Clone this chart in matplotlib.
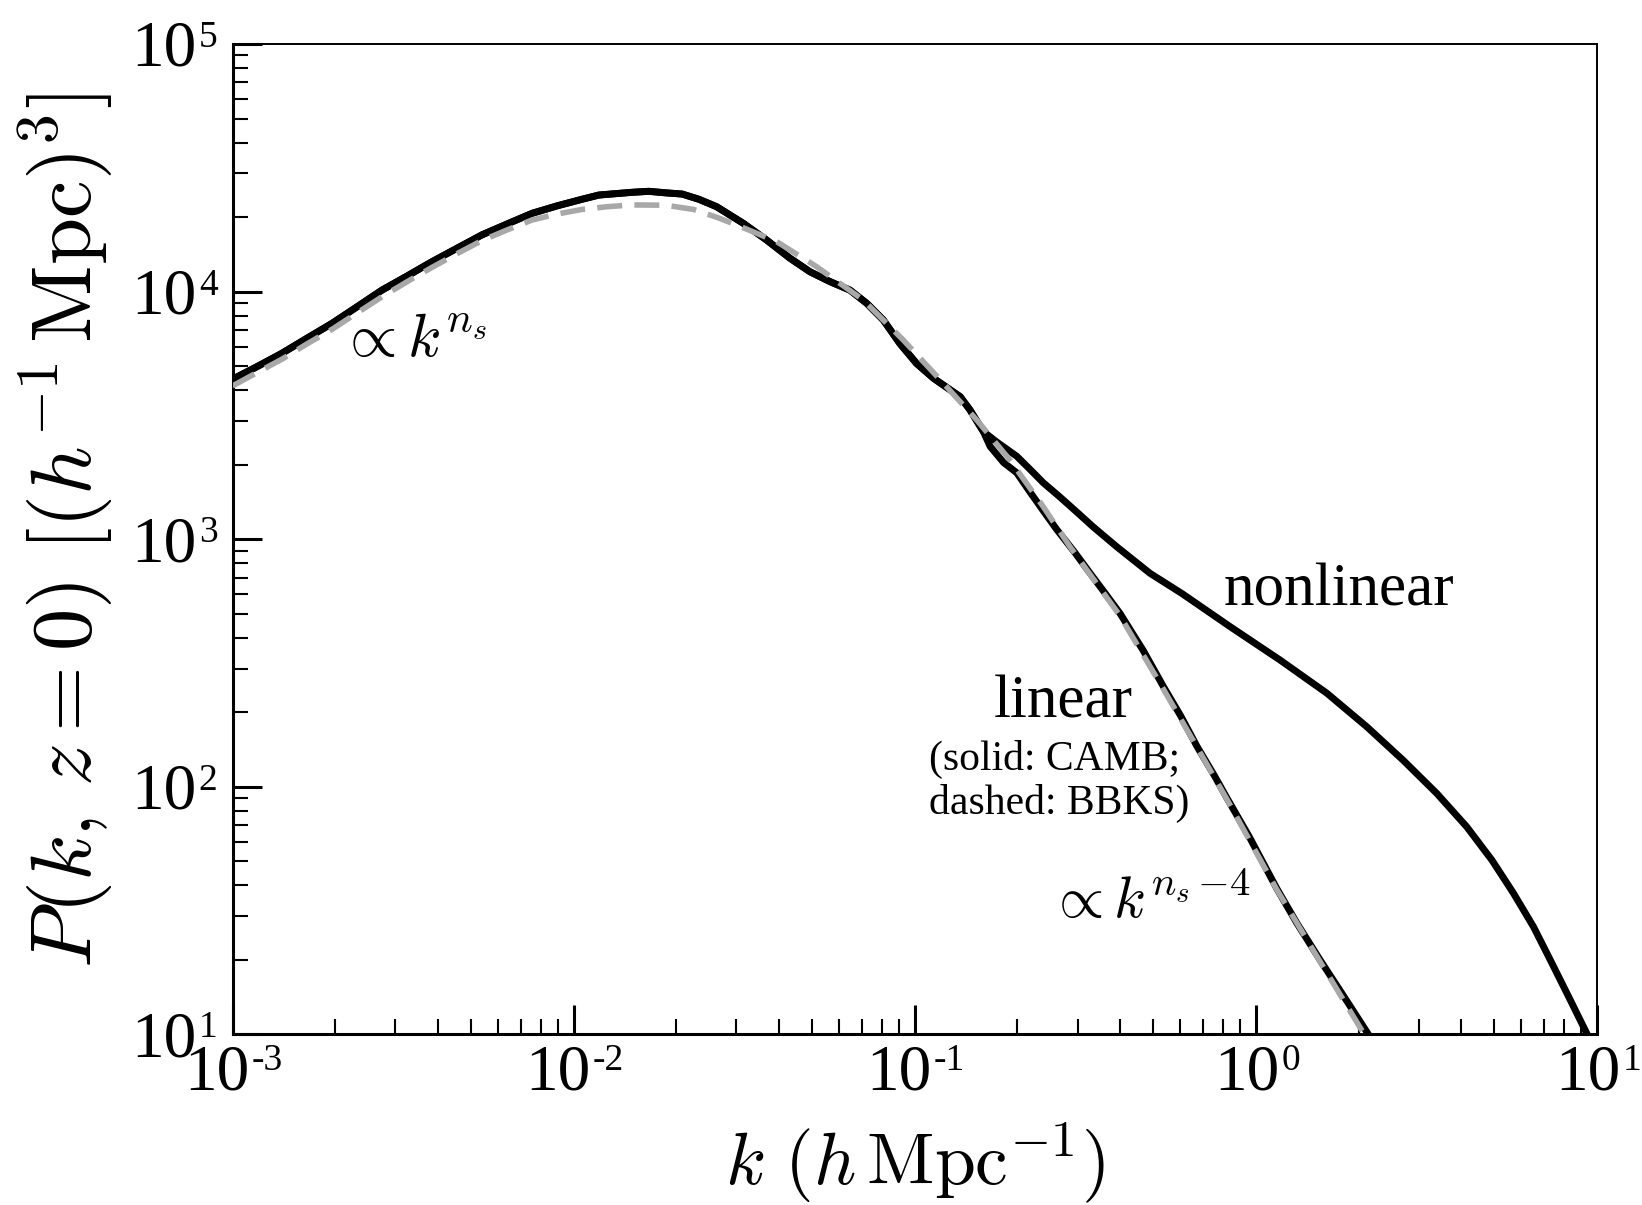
import matplotlib
matplotlib.use("Agg")
import matplotlib.pyplot as plt
from matplotlib.font_manager import FontProperties

plt.rcParams["font.family"] = ["Liberation Serif", "DejaVu Serif"]
plt.rcParams["mathtext.fontset"] = "cm"

# linear P(k), CAMB (solid)
k_camb = [0.001, 0.00118, 0.001396, 0.00165, 0.001959, 0.00232, 0.002742,
          0.00325, 0.003846, 0.00455, 0.005383, 0.00638, 0.007551, 0.00893,
          0.01059, 0.01186, 0.01483, 0.0166, 0.01858, 0.0208, 0.02328,
          0.02624, 0.03141, 0.03681, 0.04305, 0.04932, 0.05649, 0.06457,
          0.07228, 0.08091, 0.09036, 0.1012, 0.1135, 0.1271, 0.1358, 0.1452,
          0.1589, 0.1663, 0.1820, 0.1991, 0.2178, 0.2438, 0.2606, 0.2951,
          0.3266, 0.3631, 0.3999, 0.4677, 0.5358, 0.6026, 0.6714, 0.7586,
          0.8222, 0.9550, 1.151, 1.318, 1.542, 1.820, 2.138]
p_camb = [4426, 4977, 5636, 6471, 7447, 8690, 10139,
          11561, 13213, 14962, 16943, 18750, 20701, 22182,
          23605, 24547, 25177, 25410, 25061, 24774, 23605,
          22029, 18880, 16144, 13646, 12023, 10965, 10139,
          8974, 7674, 6180, 5129, 4467, 4009, 3767, 3327,
          2722, 2371, 2042, 1854, 1549, 1245, 1096, 881,
          729, 600, 501, 355, 254, 193, 146, 110,
          90.2, 63.1, 38.9, 28.2, 20.0, 14.1, 10.0]

# linear P(k), BBKS fit (dashed)
k_bbks = [0.001, 0.00118, 0.001396, 0.00165, 0.001959, 0.00232, 0.002742,
          0.00325, 0.003846, 0.00455, 0.005383, 0.00638, 0.007551, 0.00893,
          0.01059, 0.01259, 0.01483, 0.01858, 0.02244, 0.0263, 0.03006,
          0.03936, 0.05152, 0.07063, 0.09247, 0.1213, 0.1521, 0.1901,
          0.2382, 0.2851, 0.3999, 0.5358, 0.6714, 0.8222, 1.151, 1.542, 2.089]
p_bbks = [4159, 4710, 5333, 6138, 7047, 8204, 9528,
          10965, 12531, 14223, 16069, 17742, 19454, 20559,
          21478, 22030, 22387, 22336, 21478, 19953, 18578,
          15922, 12618, 9247, 6383, 4266, 3027, 2089,
          1352, 933, 490, 248, 145, 89.1, 38.5, 19.7, 9.89]

# nonlinear P(k)
k_nl = [0.001, 0.00118, 0.001396, 0.00165, 0.001959, 0.00232, 0.002742,
        0.00325, 0.003846, 0.00455, 0.005383, 0.00638, 0.007551, 0.00893,
        0.01059, 0.01186, 0.01483, 0.0166, 0.01858, 0.0208, 0.02328,
        0.02624, 0.03141, 0.03681, 0.04305, 0.04932, 0.05649, 0.06457,
        0.07228, 0.08091, 0.09036, 0.1012, 0.1135, 0.1271, 0.1358, 0.1452,
        0.1589, 0.1738, 0.1991, 0.2178, 0.2382, 0.2667, 0.2985, 0.3334,
        0.3908, 0.4375, 0.4898, 0.6067, 0.8395, 1.178, 1.614, 2.113,
        2.704, 3.388, 4.150, 4.920, 5.689, 6.516, 7.295, 8.260, 9.333]
p_nl = [4426, 4977, 5636, 6471, 7447, 8690, 10139,
        11561, 13213, 14962, 16943, 18750, 20701, 22182,
        23605, 24547, 25177, 25410, 25061, 24774, 23605,
        22029, 18880, 16144, 13646, 12023, 10965, 10139,
        8974, 7674, 6180, 5129, 4467, 4009, 3767, 3327,
        2722, 2472, 2163, 1914, 1690, 1479, 1288, 1122,
        933, 824, 728, 604, 444, 325, 239, 175,
        128, 94.2, 69.0, 50.6, 37.2, 27.2, 20.0, 14.2, 10.1]

fig = plt.figure(figsize=(16.42, 12.05), dpi=100)
ax = fig.add_axes([0.1416, 0.1415, 0.8310, 0.8220])

ax.plot(k_nl, p_nl, color="black", lw=5.0, zorder=2)
ax.plot(k_camb, p_camb, color="black", lw=5.0, zorder=3)
ax.plot(k_bbks, p_bbks, color="#a8a8a8", lw=4.0, ls=(0, (4.5, 2.2)), zorder=4)

ax.set_xscale("log")
ax.set_yscale("log")
ax.set_xlim(1e-3, 10)
ax.set_ylim(10, 1e5)

for side in ["left", "bottom"]:
    ax.spines[side].set_linewidth(2.2)
for side in ["top", "right"]:
    ax.spines[side].set_linewidth(1.4)
ax.tick_params(which="both", direction="in", top=False, right=False,
               labelbottom=False, labelleft=False)
ax.tick_params(which="major", length=21, width=2.2)
ax.tick_params(which="minor", length=11, width=1.5)

# decade labels: "10" with a small raised exponent
fig.canvas.draw()
rend = fig.canvas.get_renderer()
fp_base = FontProperties(family="Liberation Serif", size=47)
fp_exp = FontProperties(family="Liberation Serif", size=27)


def tw(s, fp):
    return rend.get_text_width_height_descent(s, fp, ismath=False)[0]


for e in range(-3, 2):
    s = str(e)
    w0, w1 = tw("10", fp_base), tw(s, fp_exp)
    left = -(w0 + w1) / 2
    ax.annotate("10", xy=(10.0 ** e, 0), xycoords=("data", "axes fraction"),
                xytext=(left, -55), textcoords="offset pixels",
                ha="left", va="baseline", fontproperties=fp_base,
                annotation_clip=False)
    ax.annotate(s, xy=(10.0 ** e, 0), xycoords=("data", "axes fraction"),
                xytext=(left + w0 + 2, -36), textcoords="offset pixels",
                ha="left", va="baseline", fontproperties=fp_exp,
                annotation_clip=False)

for e in range(1, 6):
    s = str(e)
    w1 = tw(s, fp_exp)
    ax.annotate(s, xy=(0, 10.0 ** e), xycoords=("axes fraction", "data"),
                xytext=(-15, -3), textcoords="offset pixels",
                ha="right", va="baseline", fontproperties=fp_exp,
                annotation_clip=False)
    ax.annotate("10", xy=(0, 10.0 ** e), xycoords=("axes fraction", "data"),
                xytext=(-17 - w1, -22), textcoords="offset pixels",
                ha="right", va="baseline", fontproperties=fp_base,
                annotation_clip=False)

ax.set_xlabel(r"$k\ (h\,\mathrm{Mpc}^{-1})$", fontsize=53)
ax.set_ylabel(r"$P(k,\,z=0)\ [(h^{-1}\,\mathrm{Mpc})^3]$", fontsize=61)
ax.xaxis.set_label_coords(0.5, -0.087)
ax.yaxis.set_label_coords(-0.086, 0.509)

ax.text(0.00205, 5500, r"$\propto k^{n_s}$", fontsize=44, ha="left", va="baseline")
ax.text(0.802, 542, "nonlinear", fontsize=44, ha="left", va="baseline")
ax.text(0.170, 191, "linear", fontsize=44, ha="left", va="baseline")
ax.text(0.110, 117, "(solid: CAMB;", fontsize=30, ha="left", va="baseline")
ax.text(0.110, 77.6, "dashed: BBKS)", fontsize=30, ha="left", va="baseline")
ax.text(0.245, 29.5, r"$\propto k^{n_s\,{-}4}$", fontsize=42, ha="left", va="baseline")

fig.savefig("out.png", dpi=100)
